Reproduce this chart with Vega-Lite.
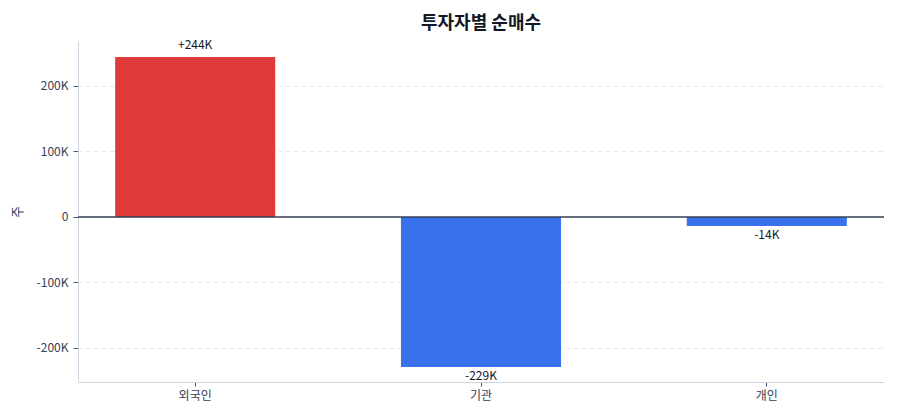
{
  "$schema": "https://vega.github.io/schema/vega-lite/v6.json",
  "autosize": {"type": "none"},
  "padding": {"left": 78, "top": 41, "right": 16, "bottom": 38},
  "width": 806,
  "height": 341,
  "title": {
    "text": "투자자별 순매수",
    "font": "Noto Sans CJK KR",
    "fontSize": 18,
    "fontWeight": "bold",
    "color": "#111827",
    "offset": 6
  },
  "config": {
    "font": "Noto Sans CJK KR",
    "view": {"stroke": null}
  },
  "data": {
    "values": [
      {"investor": "외국인", "net": 244000},
      {"investor": "기관", "net": -229000},
      {"investor": "개인", "net": -14000}
    ]
  },
  "transform": [
    {"calculate": "(datum.net > 0 ? '+' : '') + round(datum.net / 1000) + 'K'", "as": "label"},
    {"calculate": "datum.net >= 0 ? 'pos' : 'neg'", "as": "sign"}
  ],
  "layer": [
    {
      "mark": {"type": "bar", "opacity": 0.9},
      "encoding": {
        "x": {
          "field": "investor",
          "type": "nominal",
          "sort": null,
          "title": null,
          "scale": {"paddingInner": 0.44, "paddingOuter": 0.13},
          "axis": {
            "labelAngle": 0,
            "labelFontSize": 12,
            "labelColor": "#374151",
            "labelPadding": 4,
            "tickSize": 4,
            "tickColor": "#4b5563",
            "domainColor": "#cbd5e1",
            "grid": false
          }
        },
        "y": {
          "field": "net",
          "type": "quantitative",
          "title": "주",
          "scale": {"domain": [-251900, 268400], "nice": false, "zero": true},
          "axis": {
            "values": [-200000, -100000, 0, 100000, 200000],
            "labelExpr": "datum.value == 0 ? '0' : (datum.value / 1000) + 'K'",
            "labelFontSize": 12,
            "labelColor": "#374151",
            "labelPadding": 5,
            "tickSize": 5,
            "tickColor": "#4b5563",
            "domainColor": "#cbd5e1",
            "gridColor": "#e5e7eb",
            "gridDash": [4, 4],
            "titleFontSize": 13,
            "titleFontWeight": "normal",
            "titleColor": "#374151",
            "titlePadding": 12
          }
        },
        "color": {
          "field": "sign",
          "type": "nominal",
          "scale": {"domain": ["pos", "neg"], "range": ["#dc2626", "#2563eb"]},
          "legend": null
        }
      }
    },
    {
      "data": {"values": [{"zero": 0}]},
      "mark": {"type": "rule", "color": "#334155", "strokeWidth": 1.5},
      "encoding": {"y": {"field": "zero", "type": "quantitative"}}
    },
    {
      "transform": [{"filter": "datum.net >= 0"}],
      "mark": {"type": "text", "baseline": "bottom", "dy": -5, "fontSize": 12, "color": "#111827"},
      "encoding": {
        "x": {"field": "investor", "type": "nominal", "sort": null},
        "y": {"field": "net", "type": "quantitative"},
        "text": {"field": "label"}
      }
    },
    {
      "transform": [{"filter": "datum.net < 0"}],
      "mark": {"type": "text", "baseline": "top", "dy": 4, "fontSize": 12, "color": "#111827"},
      "encoding": {
        "x": {"field": "investor", "type": "nominal", "sort": null},
        "y": {"field": "net", "type": "quantitative"},
        "text": {"field": "label"}
      }
    }
  ]
}
